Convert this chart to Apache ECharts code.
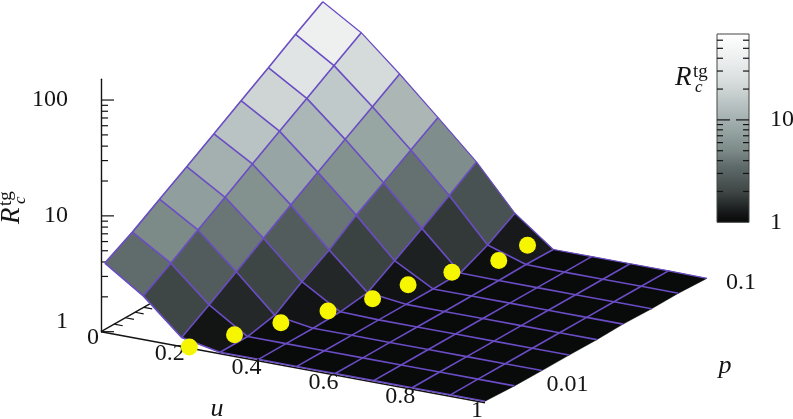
<!DOCTYPE html>
<html><head><meta charset="utf-8">
<style>html,body{margin:0;padding:0;background:#fff}#c{width:793px;height:419px}</style>
<script src="https://cdn.jsdelivr.net/npm/echarts@6/dist/echarts.min.js"></script>
</head><body><div id="c"></div>
<script>
// ---- data ----
const uValues = [0.01,0.11,0.21,0.31,0.41,0.51,0.61,0.71,0.81,0.91,1];
const rightEdgeU = [1,1.005,1.006,1.006,1.007,1.005,1.008,1.007,1.01];
const pValues = [0.005,0.0073,0.0106,0.0154,0.0224,0.0325,0.0473,0.0688,0.1];
// one row per u value, one column per p value
const Rc_u001 = [3.97,5.38,7.62,10.7,15.1,21.5,30.4,43.4,61];
const Rc_u011 = [2.38,3.34,4.76,6.7,9.55,13.5,19,26.8,37.9];
const Rc_u021 = [1.2,1.68,2.39,3.42,4.87,6.85,9.7,13.6,19.2];
const Rc_u031 = [1.03,1.03,1.16,1.66,2.29,3.37,4.72,6.64,9.3];
const Rc_u041 = [1.03,1.03,1.03,1.05,1.13,1.57,2.19,3.09,4.43];
const Rc_u051 = [1.03,1.03,1.03,1.03,1.03,1.03,1.04,1.33,1.84];
const Rc_u061 = [1.03,1.03,1.03,1.03,1.03,1.03,1.03,1.04,1.03];
const Rc_u071 = [1.03,1.03,1.03,1.03,1.03,1.03,1.03,1.03,1.03];
const Rc_u081 = [1.03,1.03,1.03,1.03,1.03,1.03,1.03,1.03,1.03];
const Rc_u091 = [1.03,1.03,1.03,1.03,1.03,1.03,1.03,1.03,1.03];
const Rc_u100 = [1.03,1.03,1.03,1.03,1.03,1.03,1.03,1.03,1.02];
const RcGrid = [Rc_u001,Rc_u011,Rc_u021,Rc_u031,Rc_u041,Rc_u051,Rc_u061,Rc_u071,Rc_u081,Rc_u091,Rc_u100];
const dotU = [0.23,0.276,0.326,0.378,0.423,0.445,0.488,0.539,0.543];
const dotP = pValues;
const dotR = [1.02,1.02,1.02,1.02,1.02,1.02,1.02,1.02,1.02];
const uTicks = [0,0.2,0.4,0.6,0.8,1];
const uTickLabels = ['0','0.2','0.4','0.6','0.8','1'];
const pTicks = [0.01,0.1];
const pTickLabels = ['0.01','0.1'];
const pMinorTicks = [0.006,0.007,0.008,0.009,0.01,0.02,0.03,0.04,0.05,0.06,0.07,0.08,0.09,0.1];
const zMajor = [1,10,100];
const zMinor = [2,3,4,5,6,7,8,9,20,30,40,50,60,70,80,90];
const cbMajor = [1,10];
const cbMinor = [2,3,4,5,6,7,8,9,20,30,40,50,60];
const colorFrac = [0,0.05,0.165,0.3,0.38,0.46,0.545,0.63,0.71,0.79,0.875,1];
const colorVals = ['#070808','#141617','#3f4746','#5f6b6b','#7b8987','#8f9e9c','#a4b0af','#b9c3c3','#cfd5d5','#e0e4e5','#eef0f0','#ffffff'];

// ---- view of the 3-D box ----
const pMin = 0.005, pMax = 0.1, cbMax = 69, zMax = 151;
const serif = '"Liberation Serif","DejaVu Serif",serif';
const purple = '#6a4cc4', ink = '#141414';
function project(u,p,R){
  const f = Math.log(p/pMin)/Math.log(pMax/pMin);
  return [101+384*u+218*f, 331.7+71*u-124*f-115.8*Math.log10(R)];
}
const uAt = (i,j)=> i===uValues.length-1 ? rightEdgeU[j] : uValues[i];
function hex(c){return [1,3,5].map(k=>parseInt(c.substr(k,2),16));}
function colorAt(f){
  f=Math.max(0,Math.min(1,f));
  let k=0; while(k<colorFrac.length-2&&f>colorFrac[k+1])k++;
  const t=(f-colorFrac[k])/(colorFrac[k+1]-colorFrac[k]);
  const a=hex(colorVals[k]),b=hex(colorVals[k+1]);
  return 'rgb('+a.map((v,n)=>Math.round(v+(b[n]-v)*t)).join(',')+')';
}

// ---- series ----
const cells=[];
for(let i=0;i<uValues.length-1;i++)for(let j=0;j<pValues.length-1;j++)cells.push([i,j]);
function lineSeries(pts,color,width,z){
  return {type:'line',xAxisIndex:0,yAxisIndex:0,data:pts,showSymbol:false,silent:true,z:z,
    lineStyle:{color:color,width:width},animation:false,clip:false};
}
const series=[];
// base axes under the surface
series.push(lineSeries([project(0,pMin,1),project(1,pMin,1)],ink,1.4,2));
series.push(lineSeries([project(0,pMin,1),project(0,pMax,1)],ink,1.4,2));
pMinorTicks.forEach(p=>series.push(lineSeries([project(0,p,1),project(0.022,p,1)],ink,1.2,2)));
// surface cells
series.push({type:'custom',xAxisIndex:0,yAxisIndex:0,z:3,silent:true,animation:false,clip:false,
  data:cells,
  renderItem(params,api){
    const i=api.value(0),j=api.value(1);
    const corners=[[i,j],[i+1,j],[i+1,j+1],[i,j+1]];
    let s=0;
    const pts=corners.map(([a,b])=>{s+=Math.log10(RcGrid[a][b]);return api.coord(project(uAt(a,b),pValues[b],RcGrid[a][b]));});
    const fill=colorAt(s/4/Math.log10(cbMax));
    return {type:'polygon',shape:{points:pts},style:{fill:fill,stroke:fill,lineWidth:0.5}};
  }});
// grid lines: constant p everywhere, constant u except the far right edge
pValues.forEach((p,j)=>series.push(lineSeries(uValues.map((_,i)=>project(uAt(i,j),p,RcGrid[i][j])),purple,j===8?1.2:1.6,4)));
uValues.slice(0,-1).forEach((u,i)=>series.push(lineSeries(pValues.map((p,j)=>project(u,p,RcGrid[i][j])),purple,1.6,4)));
// yellow points
series.push({type:'scatter',xAxisIndex:0,yAxisIndex:0,z:8,silent:true,animation:false,
  data:dotU.map((u,k)=>project(u,dotP[k],dotR[k])),symbolSize:17,itemStyle:{color:'#f6f600',opacity:1}});
// z-axis ticks on the real log axis
function tickSeries(xi,values,from,to,z){
  return {type:'custom',xAxisIndex:xi,yAxisIndex:xi,z:z||2,silent:true,animation:false,data:values.map(v=>[0,v]),
    renderItem(params,api){
      const c=api.coord([0,api.value(1)]);
      return {type:'line',shape:{x1:c[0]+from,y1:c[1],x2:c[0]+to,y2:c[1]},style:{stroke:ink,lineWidth:1.2}};
    }};
}
series.push(tickSeries(1,zMajor,0,13));
series.push(tickSeries(1,zMinor,0,7));
// colour bar on its own log axis
const cbW=32;
series.push({type:'custom',xAxisIndex:2,yAxisIndex:2,z:2,silent:true,animation:false,data:[[0,1]],
  renderItem(params,api){
    const a=api.coord([0,1]),b=api.coord([0,cbMax]);
    const stops=colorFrac.map((f,k)=>({offset:f,color:colorVals[k]}));
    return {type:'rect',shape:{x:a[0],y:b[1],width:cbW,height:a[1]-b[1]},
      style:{fill:{type:'linear',x:0,y:1,x2:0,y2:0,colorStops:stops},stroke:'#444',lineWidth:1}};
  }});
series.push(tickSeries(2,cbMinor,0,6,3));
series.push(tickSeries(2,cbMinor,cbW-6,cbW,3));
series.push(tickSeries(2,[10],0,13,3));
series.push(tickSeries(2,[10],cbW-13,cbW,3));
// tick labels
function textSeries(xi,items,z){
  return {type:'custom',xAxisIndex:xi,yAxisIndex:xi,z:z||6,silent:true,animation:false,clip:false,data:items.map((t,k)=>[t.a,t.b,k]),
    renderItem(params,api){
      const t=items[api.value(2)];
      const c=api.coord([t.a,t.b]);
      return {type:'text',x:c[0]+(t.dx||0),y:c[1]+(t.dy||0),style:{text:t.text,font:(t.style||'')+' '+(t.size||24)+'px '+serif,fill:ink,align:t.align||'center',verticalAlign:'middle'}};
    }};
}
const planeLabels=[];
uTicks.forEach((u,k)=>{const q=project(u,pMin,1);planeLabels.push({a:q[0],b:q[1],dx:-8,dy:k===0?6:8,text:uTickLabels[k]});});
pTicks.forEach((p,k)=>{const q=project(1,p,1);planeLabels.push({a:q[0],b:q[1],dx:k===0?32:38,dy:k===0?11:4.5,text:pTickLabels[k]});});
planeLabels.push({a:217,b:409,text:'u',style:'italic',size:26});
planeLabels.push({a:725,b:366,text:'p',style:'italic',size:26});
series.push(textSeries(0,planeLabels));
series.push(textSeries(1,[
  {a:0,b:1,dx:-33,dy:-10,text:'1',align:'right'},
  {a:0,b:10,dx:-33,text:'10',align:'right'},
  {a:0,b:100,dx:-33,text:'100',align:'right'}]));
series.push(textSeries(2,[
  {a:0,b:1,dx:53,text:'1',align:'left'},
  {a:0,b:10,dx:53,text:'10',align:'left'}]));

function rLabel(x,y,rotation){
  const txt=(s,dx,dy,size,style)=>({type:'text',x:dx,y:dy,style:{text:s,font:(style||'')+' '+size+'px '+serif,fill:ink,align:'left',verticalAlign:'middle'}});
  return {type:'group',x:x,y:y,rotation:rotation,silent:true,children:[
    txt('R',0,0,27,'italic'),txt('tg',18,-6,19),txt('c',20,9,17,'italic')]};
}

const option={
  animation:false,backgroundColor:'#fff',
  grid:[
    {left:0,top:0,width:793,height:419},
    {left:101,top:79.3,width:10,height:252.4},
    {left:717,top:34,width:cbW,height:188.3}
  ],
  xAxis:[
    {type:'value',gridIndex:0,min:0,max:793,show:false},
    {type:'value',gridIndex:1,min:0,max:1,show:false},
    {type:'value',gridIndex:2,min:0,max:1,show:false}
  ],
  yAxis:[
    {type:'value',gridIndex:0,min:0,max:419,inverse:true,show:false},
    {type:'log',gridIndex:1,min:1,max:zMax,logBase:10,axisLine:{show:true,onZero:false,lineStyle:{color:ink,width:1.4}},
      axisTick:{show:false},axisLabel:{show:false},splitLine:{show:false},minorTick:{show:false}},
    {type:'log',gridIndex:2,min:1,max:cbMax,logBase:10,show:false}
  ],
  graphic:[rLabel(675,78.3,0),rLabel(12,224,Math.PI/2)],
  series:series
};
const chart=echarts.init(document.getElementById('c'),null,{renderer:'canvas',width:793,height:419});
chart.setOption(option);
</script></body></html>
